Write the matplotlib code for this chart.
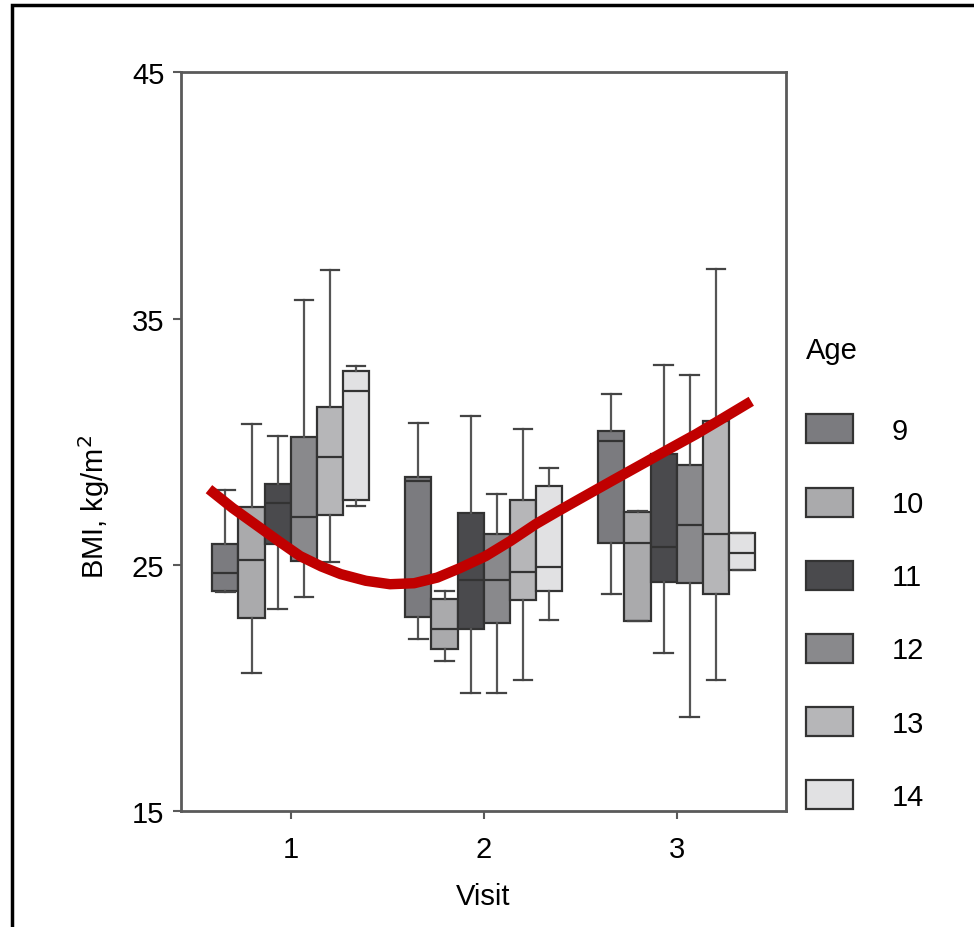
import numpy as np
import matplotlib
matplotlib.use("Agg")
import matplotlib.pyplot as plt
from matplotlib.patches import Patch, Rectangle

plt.rcParams['font.family'] = ['Liberation Sans', 'DejaVu Sans']

visits = [1, 2, 3]
ages = ['9', '10', '11', '12', '13', '14']
colors = ['#7b7b7f', '#aaaaac', '#4a4a4d', '#89898c', '#b6b6b8', '#e1e1e3']

# per age: values for visits 1, 2, 3
whislo = {'9': [23.9, 22.0, 23.8], '10': [20.6, 21.1, 22.7], '11': [23.2, 19.8, 21.4],
          '12': [23.7, 19.8, 18.8], '13': [25.1, 20.3, 20.3], '14': [27.4, 22.75, 24.8]}
q1 = {'9': [23.93, 22.87, 25.88], '10': [22.83, 21.57, 22.71], '11': [25.84, 22.4, 24.3],
      '12': [25.15, 22.63, 24.25], '13': [27.01, 23.56, 23.81], '14': [27.62, 23.93, 24.78]}
med = {'9': [24.66, 28.4, 30.02], '10': [25.19, 22.4, 25.88], '11': [27.5, 24.4, 25.71],
       '12': [26.93, 24.4, 26.61], '13': [29.37, 24.7, 26.24], '14': [32.05, 24.9, 25.47]}
q3 = {'9': [25.84, 28.56, 30.42], '10': [27.34, 23.6, 27.14], '11': [28.27, 27.1, 29.5],
      '12': [30.18, 26.24, 29.04], '13': [31.4, 27.62, 30.83], '14': [32.86, 28.2, 26.28]}
whishi = {'9': [28.03, 30.75, 31.93], '10': [30.71, 23.93, 27.2], '11': [30.22, 31.03, 33.1],
          '12': [35.74, 27.87, 32.7], '13': [36.96, 30.5, 37.0], '14': [33.06, 28.92, 26.28]}

# fitted trend curve
trend_x = [0.577, 0.70, 0.83, 0.94, 1.05, 1.16, 1.26, 1.39, 1.515, 1.64, 1.76, 1.876,
           2.01, 2.14, 2.27, 2.38, 2.495, 2.67, 2.84, 2.97, 3.10, 3.24, 3.387]
trend_y = [28.07, 27.30, 26.57, 25.95, 25.35, 24.93, 24.62, 24.35, 24.21, 24.25, 24.48, 24.86,
           25.35, 25.97, 26.65, 27.15, 27.66, 28.43, 29.17, 29.74, 30.30, 30.95, 31.64]

fig = plt.figure(figsize=(9.74, 9.28), dpi=100)
ax = fig.add_axes([0.186, 0.125, 0.621, 0.796])

bw = 0.135
spine_c = '#5a5a5a'
fs = 21
for i, a in enumerate(ages):
    stats = []
    for k in range(3):
        stats.append(dict(med=med[a][k], q1=q1[a][k], q3=q3[a][k],
                          whislo=whislo[a][k], whishi=whishi[a][k], fliers=[]))
    pos = [v + (i - 2.5) * bw for v in visits]
    ax.bxp(stats, positions=pos, widths=bw, patch_artist=True, showfliers=False,
           manage_ticks=False, capwidths=bw * 0.7,
           boxprops=dict(facecolor=colors[i], edgecolor='#333333', linewidth=1.6),
           medianprops=dict(color='#333333', linewidth=1.6),
           whiskerprops=dict(color='#555555', linewidth=1.6),
           capprops=dict(color='#444444', linewidth=1.6))

ax.plot(trend_x, trend_y, color='#c00000', linewidth=7.5, solid_capstyle='butt',
        solid_joinstyle='round', zorder=5)

ax.set_xlim(0.433, 3.567)
ax.set_ylim(15, 45)
ax.set_yticks([15, 25, 35, 45])
ax.set_xticks(visits)
ax.tick_params(labelsize=fs, color=spine_c, width=1.5, length=6)
ax.tick_params(axis='x', pad=11)
ax.tick_params(axis='y', pad=6)
for s in ax.spines.values():
    s.set_color(spine_c)
    s.set_linewidth(2)

ax.set_xlabel('Visit', fontsize=fs, labelpad=14)
ax.set_ylabel('BMI, kg/m$^2$', fontsize=fs)
ax.yaxis.set_label_coords(-0.115, 0.413)

ax.text(1.033, 0.624, 'Age', transform=ax.transAxes, fontsize=fs, va='center', ha='left')
handles = [Patch(facecolor=c, edgecolor='#333333', linewidth=1.6) for c in colors]
leg = ax.legend(handles, ages, loc='upper left', bbox_to_anchor=(1.033, 0.537),
                frameon=False, fontsize=fs, handlelength=1.6,
                handleheight=1.15, labelspacing=1.47, handletextpad=1.35,
                borderaxespad=0, borderpad=0)

# outer frame of the figure panel
fig.add_artist(Rectangle((12 / 974, -0.05), 1.2, (928 - 6) / 928 + 0.05,
                         transform=fig.transFigure, fill=False, edgecolor='black',
                         linewidth=2.5))

fig.savefig('out.png', dpi=100)
